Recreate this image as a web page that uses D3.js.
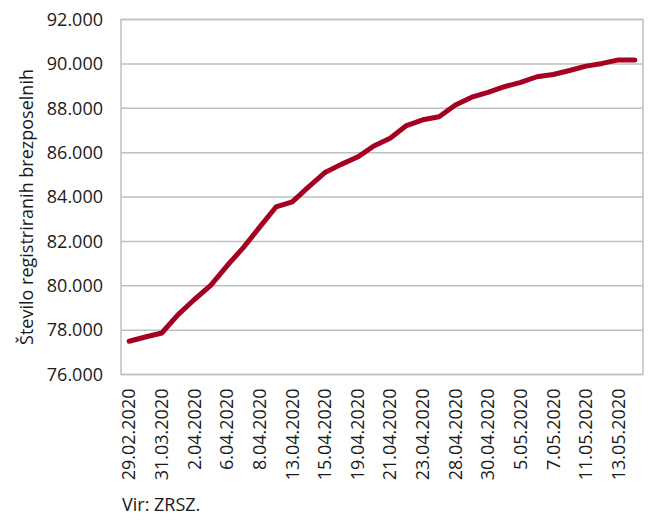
<!DOCTYPE html>
<html>
<head>
<meta charset="utf-8">
<script src="https://cdn.jsdelivr.net/npm/d3@7"></script>
<style>
  html, body { margin: 0; padding: 0; background: #fff; }
  svg { display: block; }
  text { font-family: "Open Sans", "Noto Sans", sans-serif; fill: #1a1a1a; }
</style>
</head>
<body>
<svg id="chart" width="656" height="524"></svg>
<script>
// ---- data ----
const dates = [
  "29.02.2020", "16.03.2020", "31.03.2020", "1.04.2020", "2.04.2020", "3.04.2020",
  "6.04.2020", "7.04.2020", "8.04.2020", "10.04.2020", "13.04.2020", "14.04.2020",
  "15.04.2020", "16.04.2020", "19.04.2020", "20.04.2020", "21.04.2020", "22.04.2020",
  "23.04.2020", "24.04.2020", "28.04.2020", "29.04.2020", "30.04.2020", "4.05.2020",
  "5.05.2020", "6.05.2020", "7.05.2020", "8.05.2020", "11.05.2020", "12.05.2020",
  "13.05.2020", "14.05.2020"
];
const unemployed = [
  77500, 77690, 77870, 78700, 79380, 80020,
  80900, 81720, 82640, 83550, 83780, 84460,
  85100, 85470, 85800, 86300, 86650, 87220,
  87480, 87620, 88150, 88500, 88720, 88970,
  89170, 89420, 89520, 89700, 89900, 90020,
  90180, 90170
];
const shownDates = dates.filter((d, i) => i % 2 === 0);
const yTicks = [76000, 78000, 80000, 82000, 84000, 86000, 88000, 90000, 92000];
const yTitle = "Število registriranih brezposelnih";
const source = "Vir: ZRSZ.";

// ---- layout ----
const svg = d3.select("#chart");
const L = 121, R = 643, T = 19.5, B = 374.5;

const sl = d3.formatLocale({ decimal: ",", thousands: ".", grouping: [3], currency: ["", " €"] });
const fmt = sl.format(",d");

const x = d3.scaleBand().domain(dates).range([L, R]).padding(0);
const y = d3.scaleLinear().domain([76000, 92000]).range([B, T]);
const cx = d => x(d) + x.bandwidth() / 2;

// gridlines
svg.append("g")
  .selectAll("line")
  .data(yTicks)
  .join("line")
  .attr("x1", L).attr("x2", R)
  .attr("y1", d => y(d)).attr("y2", d => y(d))
  .attr("stroke", "#bfbfbf").attr("stroke-width", 1.5);

// plot frame
svg.append("rect")
  .attr("x", L).attr("y", T)
  .attr("width", R - L).attr("height", B - T)
  .attr("fill", "none").attr("stroke", "#bfbfbf").attr("stroke-width", 1.5);

// y axis
const yAxis = svg.append("g")
  .attr("transform", `translate(${L},0)`)
  .call(d3.axisLeft(y).tickValues(yTicks).tickFormat(fmt).tickSize(0).tickPadding(18));
yAxis.select(".domain").remove();
yAxis.selectAll("text").style("font-size", "18px").attr("fill", "#1a1a1a")
  .style("font-family", "'Open Sans', sans-serif");

// x axis
const xAxis = svg.append("g")
  .attr("transform", `translate(0,${B})`)
  .call(d3.axisBottom(x).tickValues(shownDates).tickSize(0));
xAxis.select(".domain").remove();
xAxis.selectAll("text")
  .style("font-size", "18px").attr("fill", "#1a1a1a")
  .style("font-family", "'Open Sans', sans-serif")
  .attr("text-anchor", "end")
  .attr("transform", "rotate(-90)")
  .attr("x", -14).attr("y", 0).attr("dy", "0.35em");

// line
const line = d3.line()
  .x((d, i) => cx(dates[i]))
  .y(d => y(d));
svg.append("path")
  .datum(unemployed)
  .attr("d", line)
  .attr("fill", "none")
  .attr("stroke", "#a50021")
  .attr("stroke-width", 5)
  .attr("stroke-linejoin", "round")
  .attr("stroke-linecap", "round");

// y title
svg.append("text")
  .attr("transform", `translate(33,${(T + B) / 2 + 10}) rotate(-90)`)
  .attr("text-anchor", "middle")
  .style("font-size", "18px")
  .text(yTitle);

// source
svg.append("text")
  .attr("x", 122).attr("y", 511)
  .style("font-size", "18px")
  .text(source);
</script>
</body>
</html>
